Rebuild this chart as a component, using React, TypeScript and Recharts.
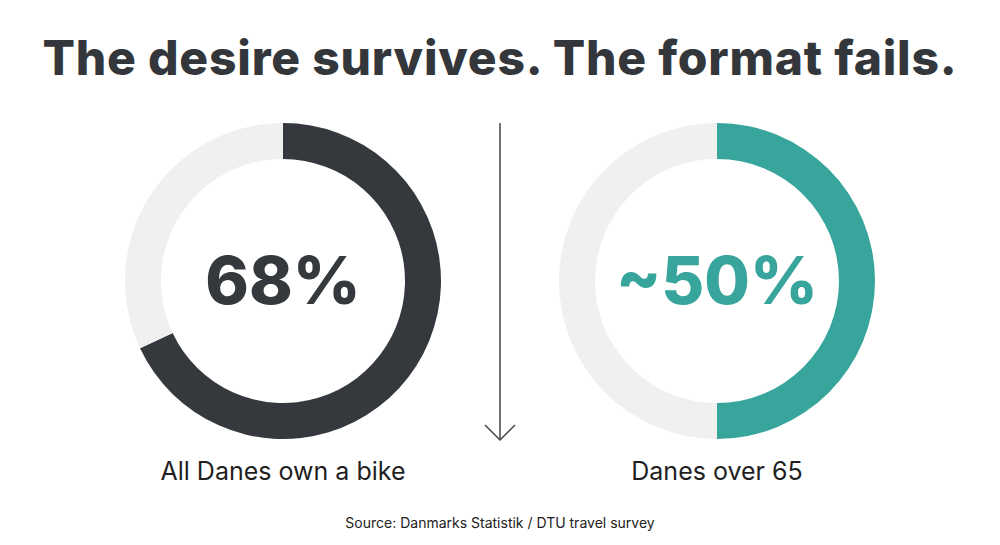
import { PieChart, Pie, Cell, Label } from 'recharts';

const title = 'The desire survives. The format fails.';
const source = 'Source: Danmarks Statistik / DTU travel survey';

// left donut: all Danes who own a bike
const allDanes = [
  { name: 'Own a bike', value: 68 },
  { name: 'Rest', value: 32 },
];
// right donut: Danes over 65
const over65 = [
  { name: 'Own a bike', value: 50 },
  { name: 'Rest', value: 50 },
];
const centerLabels = ['68%', '~50%'];
const captions = ['All Danes own a bike', 'Danes over 65'];

const DARK = '#35393d';
const TEAL = '#38a59d';
const TRACK = '#f0f0f0';
const FONT = 'Inter, "Open Sans", sans-serif';

const donuts = [
  { data: allDanes, color: DARK, cx: 283, label: centerLabels[0], caption: captions[0] },
  { data: over65, color: TEAL, cx: 717, label: centerLabels[1], caption: captions[1] },
];

const CY = 281;
const BOX = 330;

export default function App() {
  return (
    <div style={{ position: 'absolute', left: 0, top: 0, width: 1000, height: 545, background: '#fff', fontFamily: FONT }}>
      <div
        style={{
          position: 'absolute', top: 28, left: 0, width: 1000, textAlign: 'center',
          fontSize: 48, fontWeight: 800, color: '#33363a', letterSpacing: 0.8,
        }}
      >
        {title}
      </div>

      {donuts.map((d) => (
        <div key={d.caption} style={{ position: 'absolute', left: d.cx - BOX / 2, top: CY - BOX / 2 }}>
          <PieChart width={BOX} height={BOX} margin={{ top: 0, right: 0, bottom: 0, left: 0 }}>
            <Pie
              data={d.data}
              dataKey="value"
              cx="50%"
              cy="50%"
              innerRadius={122}
              outerRadius={158}
              startAngle={90}
              endAngle={-270}
              stroke="none"
              isAnimationActive={false}
            >
              <Cell fill={d.color} />
              <Cell fill={TRACK} />
              <Label value={d.label} position="center" fill={d.color} style={{ fontSize: 66, fontWeight: 800, fontFamily: FONT }} />
            </Pie>
          </PieChart>
        </div>
      ))}

      {/* downward arrow between the two donuts */}
      <svg width={1000} height={545} style={{ position: 'absolute', left: 0, top: 0, pointerEvents: 'none' }}>
        <line x1={500} y1={123} x2={500} y2={439} stroke="#444" strokeWidth={1.5} />
        <polyline points="485,425 500,440 515,425" fill="none" stroke="#444" strokeWidth={1.5} />
      </svg>

      {donuts.map((d) => (
        <div
          key={d.caption}
          style={{
            position: 'absolute', top: 456, left: d.cx - 200, width: 400,
            textAlign: 'center', fontSize: 25, color: '#1f1f1f',
          }}
        >
          {d.caption}
        </div>
      ))}

      <div style={{ position: 'absolute', top: 514, left: 0, width: 1000, textAlign: 'center', fontSize: 14, color: '#222' }}>
        {source}
      </div>
    </div>
  );
}
